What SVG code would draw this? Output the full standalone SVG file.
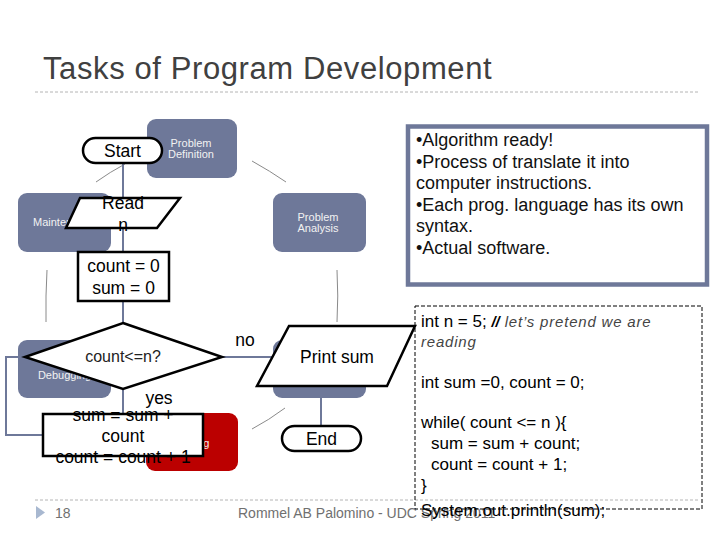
<svg xmlns="http://www.w3.org/2000/svg" width="720" height="540" viewBox="0 0 720 540">
<style>
text{font-family:"Liberation Sans",Arial,sans-serif}
.cyc{fill:#6e7899}
.ct{fill:#f2f2f2;font-size:11px;text-anchor:middle}
.arc{fill:none;stroke:#8a8a8a;stroke-width:1}
.fc{fill:#fff;stroke:#000;stroke-width:2.5}
.ft{fill:#000;font-size:17.5px;text-anchor:middle}
.con{fill:none;stroke:#6e7899;stroke-width:2}
.rt{fill:#111;font-size:18px}
.code{fill:#000;font-size:17px}
.sep{stroke:#b4b4b4;stroke-width:1;stroke-dasharray:3,2}
</style>
<rect width="720" height="540" fill="#fff"/>
<text x="43" y="79" font-size="31" letter-spacing="0.6" fill="#404040">Tasks of Program Development</text>
<line class="sep" x1="35" y1="92" x2="700" y2="92"/>
<line class="sep" x1="35" y1="500" x2="700" y2="500"/>
<g id="cycle">
<g id="problem-definition"><rect class="cyc" x="147" y="119" width="90" height="59" rx="9"/><text class="ct" x="191" y="147">Problem</text><text class="ct" x="191" y="158">Definition</text></g>
<g id="problem-analysis"><rect class="cyc" x="273" y="193" width="93" height="59" rx="9"/><text class="ct" x="318" y="221">Problem</text><text class="ct" x="318" y="232">Analysis</text></g>
<g id="maintenance"><rect class="cyc" x="18" y="193" width="93" height="59" rx="9"/><text class="ct" x="64.5" y="226">Maintenance</text></g>
<g id="debugging"><rect class="cyc" x="18" y="340" width="93" height="58" rx="9"/><text class="ct" x="64.5" y="379">Debugging</text></g>
<g id="implementation"><rect class="cyc" x="273" y="340" width="93" height="58" rx="9"/></g>
<g id="coding"><rect x="146" y="413" width="92" height="58" rx="9" fill="#bb0000"/><text class="ct" x="192" y="447">Coding</text></g>
<g id="cycle-arcs">
<path class="arc" d="M96,182 Q110,172 125,164"/>
<path class="arc" d="M252,161 Q270,171 286,182"/>
<path class="arc" d="M337,270 Q338.5,296 337,322"/>
<path class="arc" d="M47,270 Q45.5,296 46,322"/>
<path class="arc" d="M285,408 Q269,420 252,429"/>
</g>
</g>
<g id="connectors">
<line class="con" x1="123" y1="163" x2="123" y2="198"/>
<line class="con" x1="123" y1="228" x2="123" y2="252"/>
<line class="con" x1="123" y1="301" x2="123" y2="323"/>
<line class="con" x1="123" y1="389" x2="123" y2="414"/>
<line class="con" x1="222" y1="357" x2="274" y2="357"/>
<line class="con" x1="321" y1="386" x2="321" y2="426"/>
<polyline class="con" points="43,435 6,435 6,357 25,357"/>
<text x="245" y="346" font-size="17.5" text-anchor="middle" fill="#000">no</text>
<text x="159" y="404" font-size="17.5" text-anchor="middle" fill="#000">yes</text>
</g>
<g id="start"><rect class="fc" x="83" y="138" width="79" height="25" rx="12.5"/><text class="ft" x="122.5" y="157">Start</text></g>
<g id="read"><polygon class="fc" points="80,198 180,198 157,228 66,228"/><text class="ft" x="123" y="209">Read</text><text class="ft" x="123" y="231">n</text></g>
<g id="init"><rect class="fc" x="78" y="252" width="91" height="49"/><text class="ft" x="123.5" y="272">count = 0</text><text class="ft" x="123.5" y="294">sum = 0</text></g>
<g id="decision"><polygon class="fc" points="123,323 222,357 123,389 25,357"/><text x="123" y="362" font-size="16" text-anchor="middle" fill="#222">count&lt;=n?</text></g>
<g id="update"><rect class="fc" x="43" y="414" width="160" height="42"/><text class="ft" x="123" y="421">sum = sum +</text><text class="ft" x="123" y="442">count</text><text class="ft" x="123" y="463">count = count + 1</text></g>
<g id="print"><polygon class="fc" points="289,326 415,326 387,386 257,386"/><text class="ft" x="337" y="363">Print sum</text></g>
<g id="end"><rect class="fc" x="282" y="426" width="79" height="25" rx="12.5"/><text class="ft" x="321.5" y="445">End</text></g>
<g id="notes">
<rect x="408" y="126.5" width="299" height="158" fill="#fff" stroke="#6e7899" stroke-width="4.5"/>
<text class="rt" x="416" y="146">•Algorithm ready!</text>
<text class="rt" x="416" y="168">•Process of translate it into</text>
<text class="rt" x="416" y="189">computer instructions.</text>
<text class="rt" x="416" y="211">•Each prog. language has its own</text>
<text class="rt" x="416" y="232">syntax.</text>
<text class="rt" x="416" y="254">•Actual software.</text>
</g>
<g id="footer">
<polygon points="36,506 45,512.5 36,519" fill="#a8b8d0"/>
<text x="55" y="518" font-size="14" fill="#707070">18</text>
<text x="238" y="518" font-size="14" fill="#707070">Rommel AB Palomino - UDC Spring 2011</text>
</g>
<g id="code">
<rect x="415" y="306" width="287" height="203" fill="none" stroke="#000" stroke-width="1" stroke-dasharray="4,2"/>
<text class="code" x="421" y="327">int n = 5; <tspan font-weight="bold" font-style="italic" font-size="15">//</tspan><tspan font-style="italic" font-size="15" fill="#444" letter-spacing="0.8"> let’s pretend we are</tspan></text>
<text x="421" y="347" font-size="15" font-style="italic" fill="#444" letter-spacing="0.8">reading</text>
<text class="code" x="421" y="388">int sum =0, count = 0;</text>
<text class="code" x="421" y="428">while( count &lt;= n ){</text>
<text class="code" x="431" y="449">sum = sum + count;</text>
<text class="code" x="431" y="470">count = count + 1;</text>
<text class="code" x="421" y="491">}</text>
<text class="code" x="421" y="516">System.out.println(sum);</text>
</g>
</svg>
